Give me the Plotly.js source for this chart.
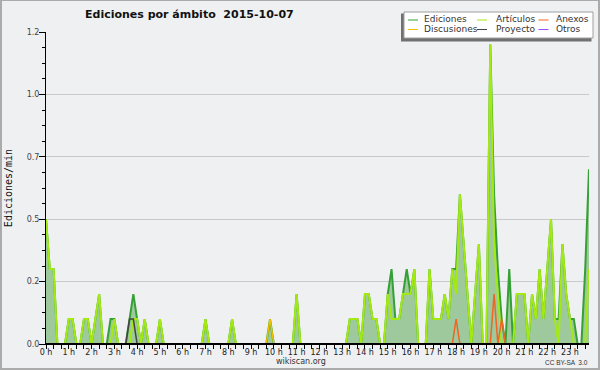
<!DOCTYPE html>
<html><head><meta charset="utf-8">
<script src="https://cdn.plot.ly/plotly-3.0.1.min.js"></script>
<style>
html,body{margin:0;padding:0;background:#eff0f2;}
#wrap{position:relative;width:600px;height:370px;}
#chart{width:600px;height:370px;}
#frame{position:absolute;left:0;top:0;width:600px;height:370px;box-sizing:border-box;border-style:solid;border-color:#ababab;border-width:1px 2px 2px 2px;pointer-events:none;}
</style>
</head><body>
<div id="wrap"><div id="chart"></div><div id="frame"></div></div>
<script>
// ---- data: edits per minute, 10-minute bins starting at 00:00 ----
const binMinutes = 10;
const ediciones = [
  0.5,0.3,0.3,0,0,0,0.1,0.1,0,0,0.1,0.1,
  0,0.1,0.2,0,0,0.1,0.1,0,0,0,0.1,0.2,
  0.1,0,0.1,0,0,0,0.1,0,0,0,0,0,
  0,0,0,0,0,0,0.1,0,0,0,0,0,
  0,0.1,0,0,0,0,0,0,0,0,0,0.1,
  0,0,0,0,0,0,0.2,0,0,0,0,0,
  0,0,0,0,0,0,0,0,0.1,0.1,0.1,0,
  0.2,0.2,0.1,0.1,0,0,0.2,0.3,0.1,0.1,0.2,0.3,
  0.2,0.3,0,0,0,0.3,0.1,0.1,0.1,0.2,0.1,0.3,
  0.3,0.6,0.4,0.2,0,0.2,0.4,0,0,1.2,0.6,0.3,
  0.1,0,0.3,0,0.2,0.2,0.2,0,0.2,0.1,0.3,0.1,
  0.3,0.5,0.1,0.1,0.4,0.2,0.1,0.1,0,0,0.3,0.7
];
const articulos = [
  0.5,0.3,0.3,0,0,0,0.1,0.1,0,0,0.1,0.1,
  0,0.1,0.2,0,0,0,0.1,0,0,0,0,0.1,
  0.1,0,0.1,0,0,0,0.1,0,0,0,0,0,
  0,0,0,0,0,0,0.1,0,0,0,0,0,
  0,0.1,0,0,0,0,0,0,0,0,0,0,
  0,0,0,0,0,0,0.2,0,0,0,0,0,
  0,0,0,0,0,0,0,0,0.1,0.1,0.1,0,
  0.2,0.2,0.1,0.1,0,0,0.2,0.1,0.1,0.1,0.2,0.2,
  0.2,0.3,0,0,0,0.3,0.1,0.1,0.1,0.2,0.1,0.3,
  0.2,0.6,0.4,0.2,0,0.2,0.4,0,0,1.2,0.4,0.2,
  0,0,0,0,0.2,0.2,0.2,0,0.2,0.1,0.3,0.1,
  0.3,0.5,0.1,0,0.4,0.2,0.1,0,0,0,0,0.3
];
const anexos = [
  0,0,0,0,0,0,0,0,0,0,0,0, 0,0,0,0,0,0,0,0,0,0,0,0,
  0,0,0,0,0,0,0,0,0,0,0,0, 0,0,0,0,0,0,0,0,0,0,0,0,
  0,0,0,0,0,0,0,0,0,0,0,0, 0,0,0,0,0,0,0,0,0,0,0,0,
  0,0,0,0,0,0,0,0,0,0,0,0, 0,0,0,0,0,0,0,0,0,0,0,0,
  0,0,0,0,0,0,0,0,0,0,0,0, 0.1,0,0,0,0,0,0,0,0,0,0.2,0,
  0.1,0,0,0,0,0,0,0,0,0,0,0, 0,0,0,0,0,0,0,0,0,0,0,0
];
const discusiones = [
  0,0,0,0,0,0,0,0,0,0,0,0, 0,0,0,0,0,0,0,0,0,0,0,0,
  0,0,0,0,0,0,0,0,0,0,0,0, 0,0,0,0,0,0,0,0,0,0,0,0,
  0,0,0,0,0,0,0,0,0,0,0,0.1, 0,0,0,0,0,0,0,0,0,0,0,0,
  0,0,0,0,0,0,0,0,0,0,0,0, 0,0,0,0,0,0,0,0,0,0,0,0,
  0,0,0,0,0,0,0,0,0,0,0,0, 0,0,0,0,0,0,0,0,0,0,0,0,
  0,0,0,0,0,0,0,0,0,0,0,0, 0,0,0,0,0,0,0,0,0,0,0,0
];
const proyecto = [
  0,0,0,0,0,0,0,0,0,0,0,0, 0,0,0,0,0,0,0,0,0,0,0.1,0.1,
  0,0,0,0,0,0,0,0,0,0,0,0, 0,0,0,0,0,0,0,0,0,0,0,0,
  0,0,0,0,0,0,0,0,0,0,0,0, 0,0,0,0,0,0,0,0,0,0,0,0,
  0,0,0,0,0,0,0,0,0,0,0,0, 0,0,0,0,0,0,0,0,0,0,0,0,
  0,0,0,0,0,0,0,0,0,0,0,0, 0,0,0,0,0,0,0,0,0,0,0,0,
  0,0,0,0,0,0,0,0,0,0,0,0, 0,0,0,0,0,0,0,0,0,0,0,0
];
const otros = [
  0,0,0,0,0,0,0,0,0,0,0,0, 0,0,0,0,0,0,0,0,0,0,0,0,
  0,0,0,0,0,0,0,0,0,0,0,0, 0,0,0,0,0,0,0,0,0,0,0,0,
  0,0,0,0,0,0,0,0,0,0,0,0, 0,0,0,0,0,0,0,0,0,0,0,0,
  0,0,0,0,0,0,0,0,0,0,0,0, 0,0,0,0,0,0,0,0,0,0,0,0,
  0,0,0,0,0,0,0,0,0,0,0,0, 0,0,0,0,0,0,0,0,0,0,0,0,
  0,0,0,0,0,0,0,0,0,0,0,0, 0,0,0,0,0,0,0,0,0,0,0,0
];
const hourTicks = [0,1,2,3,4,5,6,7,8,9,10,11,12,13,14,15,16,17,18,19,20,21,22,23];
const hourLabels = ["0 h","1 h","2 h","3 h","4 h","5 h","6 h","7 h","8 h","9 h","10 h","11 h",
                    "12 h","13 h","14 h","15 h","16 h","17 h","18 h","19 h","20 h","21 h","22 h","23 h"];
const yTickVals = [0,0.25,0.5,0.75,1,1.25];
const yTickText = ["0.0","0.2","0.5","0.7","1.0","1.2"];
const seriesNames = ["Ediciones","Artículos","Anexos","Discusiones","Proyecto","Otros"];
const chartTitle = "Ediciones por ámbito \u00a02015-10-07";

// ---- styles ----
const colors = {
  Ediciones: "#35a035", "Artículos": "#a4ea12", Anexos: "#f06424",
  Discusiones: "#f2c200", Proyecto: "#444444", Otros: "#9b4dff"
};
const fillColor = "#9dc99d";
const bg = "#eff0f2";

const times = ediciones.map((_, i) => i * binMinutes / 60);
const xEnd = times[times.length - 1];

function lineTrace(name, y, width) {
  return {x: times, y: y, type: "scatter", mode: "lines", name: name,
          line: {color: colors[name], width: width}, hoverinfo: "skip"};
}
const edTrace = lineTrace("Ediciones", ediciones, 2);
edTrace.fill = "tozeroy"; edTrace.fillcolor = fillColor;
const traces = [
  edTrace,
  lineTrace("Artículos", articulos, 2),
  lineTrace("Discusiones", discusiones, 1.5),
  lineTrace("Anexos", anexos, 1.5),
  lineTrace("Proyecto", proyecto, 1.5),
  lineTrace("Otros", otros, 1.5)
];

// ---- layout geometry (pixels) ----
const M = {l: 46, r: 11, t: 32, b: 26};
const W = 600 - M.l - M.r, H = 370 - M.t - M.b;
const px = x => (x - M.l) / W;
const py = y => (370 - M.b - y) / H;

const shapes = [
  // baseline drawn over traces (hides zero-valued lines, like the original)
  {type: "line", xref: "x", yref: "y", x0: 0, x1: xEnd, y0: 0, y1: 0,
   line: {color: "#000", width: 2}, layer: "above"},
  // legend shadow and box
  {type: "rect", xref: "paper", yref: "paper", x0: px(401), x1: px(591.5), y0: py(41.5), y1: py(13.5),
   fillcolor: "#707070", line: {width: 0}, layer: "above"},
  {type: "rect", xref: "paper", yref: "paper", x0: px(404), x1: px(593), y0: py(38), y1: py(12),
   fillcolor: "#ffffff", line: {color: "#a0a0a0", width: 1}, layer: "above"}
];
const annotations = [
  {text: "wikiscan.org", xref: "paper", yref: "paper", x: px(300.5), y: py(361), showarrow: false,
   xanchor: "center", yanchor: "middle", font: {family: "DejaVu Sans", size: 8, color: "#333"}},
  {text: "CC BY-SA \u00a03.0", xref: "paper", yref: "paper", x: px(590), y: py(362), showarrow: false,
   xanchor: "right", yanchor: "middle", font: {family: "Liberation Sans", size: 6.5, color: "#333"}}
];
const legCols = [{line: 408, text: 423}, {line: 477, text: 495}, {line: 538.5, text: 555}];
const legRows = [20, 29.5];
seriesNames.forEach((name, k) => {
  const c = legCols[k % 3], yy = legRows[Math.floor(k / 3)];
  shapes.push({type: "line", xref: "paper", yref: "paper", x0: px(c.line), x1: px(c.line + 10),
    y0: py(yy), y1: py(yy), line: {color: colors[name], width: 1}, layer: "above"});
  annotations.push({text: name, xref: "paper", yref: "paper", x: px(c.text), y: py(yy - 0.5),
    showarrow: false, xanchor: "left", yanchor: "middle", borderpad: 0,
    font: {family: "DejaVu Sans", size: 9, color: "#333"}});
});

const layout = {
  width: 600, height: 370, margin: M,
  paper_bgcolor: bg, plot_bgcolor: bg, showlegend: false,
  font: {family: "DejaVu Sans", color: "#222"},
  title: {text: chartTitle, xref: "container", yref: "container", x: 85 / 600, xanchor: "left",
          y: 1 - 14 / 370, yanchor: "middle",
          font: {family: "DejaVu Sans", size: 11, color: "#111", weight: "bold"}},
  xaxis: {range: [0, xEnd], tickmode: "array", tickvals: hourTicks, ticktext: hourLabels,
          ticks: "outside", ticklen: 4, tickwidth: 1, tickcolor: "#000", ticklabelstandoff: -4,
          showline: true, linecolor: "#000", linewidth: 1, showgrid: false, zeroline: false,
          tickfont: {family: "DejaVu Sans", size: 8, color: "#222"},
          minor: {tickmode: "linear", tick0: 0, dtick: 1 / 3, ticks: "outside", ticklen: 4,
                  tickcolor: "#000", tickwidth: 1, showgrid: false},
          fixedrange: true},
  yaxis: {range: [0, 1.25], tickmode: "array", tickvals: yTickVals, ticktext: yTickText,
          ticks: "outside", ticklen: 6, tickwidth: 1, tickcolor: "#000", ticklabelstandoff: -2,
          showline: true, linecolor: "#000", linewidth: 1,
          showgrid: true, gridcolor: "#c9c9c9", gridwidth: 1, zeroline: false,
          tickfont: {family: "DejaVu Sans", size: 8, color: "#444"},
          minor: {tickmode: "linear", tick0: 0, dtick: 0.0625, ticks: "outside", ticklen: 3,
                  tickcolor: "#000", tickwidth: 1, showgrid: false},
          title: {text: "Ediciones/min", standoff: 12,
                  font: {family: "DejaVu Sans Mono", size: 10, color: "#111"}},
          fixedrange: true},
  shapes: shapes, annotations: annotations
};
Plotly.newPlot("chart", traces, layout, {staticPlot: true, displayModeBar: false});
</script>
</body></html>
